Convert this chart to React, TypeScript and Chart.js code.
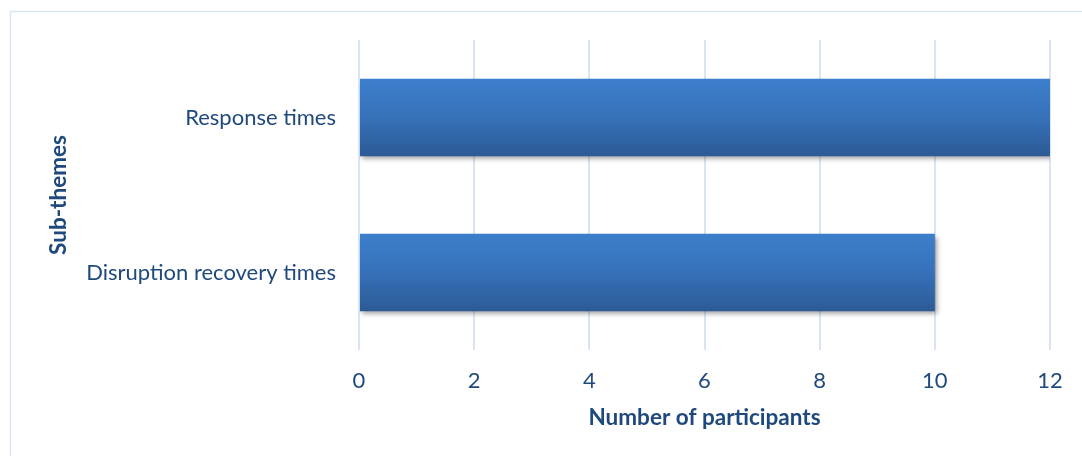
import React, { useEffect, useRef } from "react";
import { Chart, registerables } from "chart.js";

Chart.register(...registerables);

const categories = ["Response times", "Disruption recovery times"];
const participants = [12, 10];
const xTicks = [0, 2, 4, 6, 8, 10, 12];

const TEXT = "#1f497d";
const GRID = "#d9e5f5";
const FONT = "Lato";

const W = 1082;
const H = 456;

// Light frame around the whole chart, open towards the right and bottom edges.
const framePlugin = {
  id: "frame",
  beforeDraw(chart: any) {
    const c = chart.ctx;
    c.save();
    c.strokeStyle = GRID;
    c.lineWidth = 1.5;
    c.strokeRect(10.5, 11.5, W + 20, H + 20);
    c.restore();
  },
};

// Soft drop shadow under the bars.
const shadowPlugin = {
  id: "barShadow",
  beforeDatasetsDraw(chart: any) {
    const c = chart.ctx;
    c.save();
    c.shadowColor = "rgba(0,0,0,0.38)";
    c.shadowBlur = 5;
    c.shadowOffsetX = 2;
    c.shadowOffsetY = 3;
  },
  afterDatasetsDraw(chart: any) {
    chart.ctx.restore();
  },
};

export default function App() {
  const ref = useRef<HTMLCanvasElement | null>(null);

  useEffect(() => {
    document.body.style.margin = "0";
    const canvas = ref.current;
    if (!canvas) return;

    const chart = new Chart(canvas, {
      type: "bar",
      data: {
        labels: categories,
        datasets: [
          {
            data: participants,
            backgroundColor: (ctx: any) => {
              const ch = ctx.chart;
              const ys = ch.scales?.y;
              if (!ys || !ch.chartArea) return "#3672b8";
              const center = ys.getPixelForValue(ctx.dataIndex);
              const half = (ch.chartArea.bottom - ch.chartArea.top) / categories.length / 4;
              const g = ch.ctx.createLinearGradient(0, center - half, 0, center + half);
              g.addColorStop(0, "#3c7fcc");
              g.addColorStop(0.5, "#3671b9");
              g.addColorStop(1, "#2c5a95");
              return g;
            },
            borderWidth: 0,
            categoryPercentage: 1,
            barPercentage: 0.5,
          },
        ],
      },
      options: {
        indexAxis: "y",
        responsive: false,
        animation: false,
        events: [],
        layout: { padding: { top: 40, right: 32, left: 0, bottom: 0 } },
        plugins: {
          legend: { display: false },
          tooltip: { enabled: false },
        },
        scales: {
          x: {
            min: 0,
            max: 12,
            afterBuildTicks: (scale: any) => {
              scale.ticks = xTicks.map((v) => ({ value: v }));
            },
            afterFit: (scale: any) => {
              scale.height = 106;
            },
            grid: { color: GRID, lineWidth: 2, drawTicks: false },
            border: { display: false },
            ticks: {
              color: TEXT,
              padding: 18,
              font: { family: FONT, size: 22 },
            },
            title: {
              display: true,
              text: "Number of participants",
              color: TEXT,
              font: { family: FONT, size: 22.5, weight: "bold" },
              padding: { top: 0, bottom: 25 },
            },
          },
          y: {
            afterFit: (scale: any) => {
              scale.width = 359;
            },
            grid: { display: false, drawTicks: false },
            border: { display: false },
            ticks: {
              color: TEXT,
              padding: 23,
              font: { family: FONT, size: 22 },
            },
            title: {
              display: true,
              text: "Sub-themes",
              color: TEXT,
              font: { family: FONT, size: 22.5, weight: "bold" },
              padding: { top: 45, bottom: 0 },
            },
          },
        },
      },
      plugins: [framePlugin, shadowPlugin],
    } as any);

    return () => chart.destroy();
  }, []);

  return (
    <div style={{ position: "absolute", left: 0, top: 0, width: W, height: H, background: "#fff" }}>
      <canvas ref={ref} width={W} height={H} style={{ width: W, height: H, display: "block" }} />
    </div>
  );
}
